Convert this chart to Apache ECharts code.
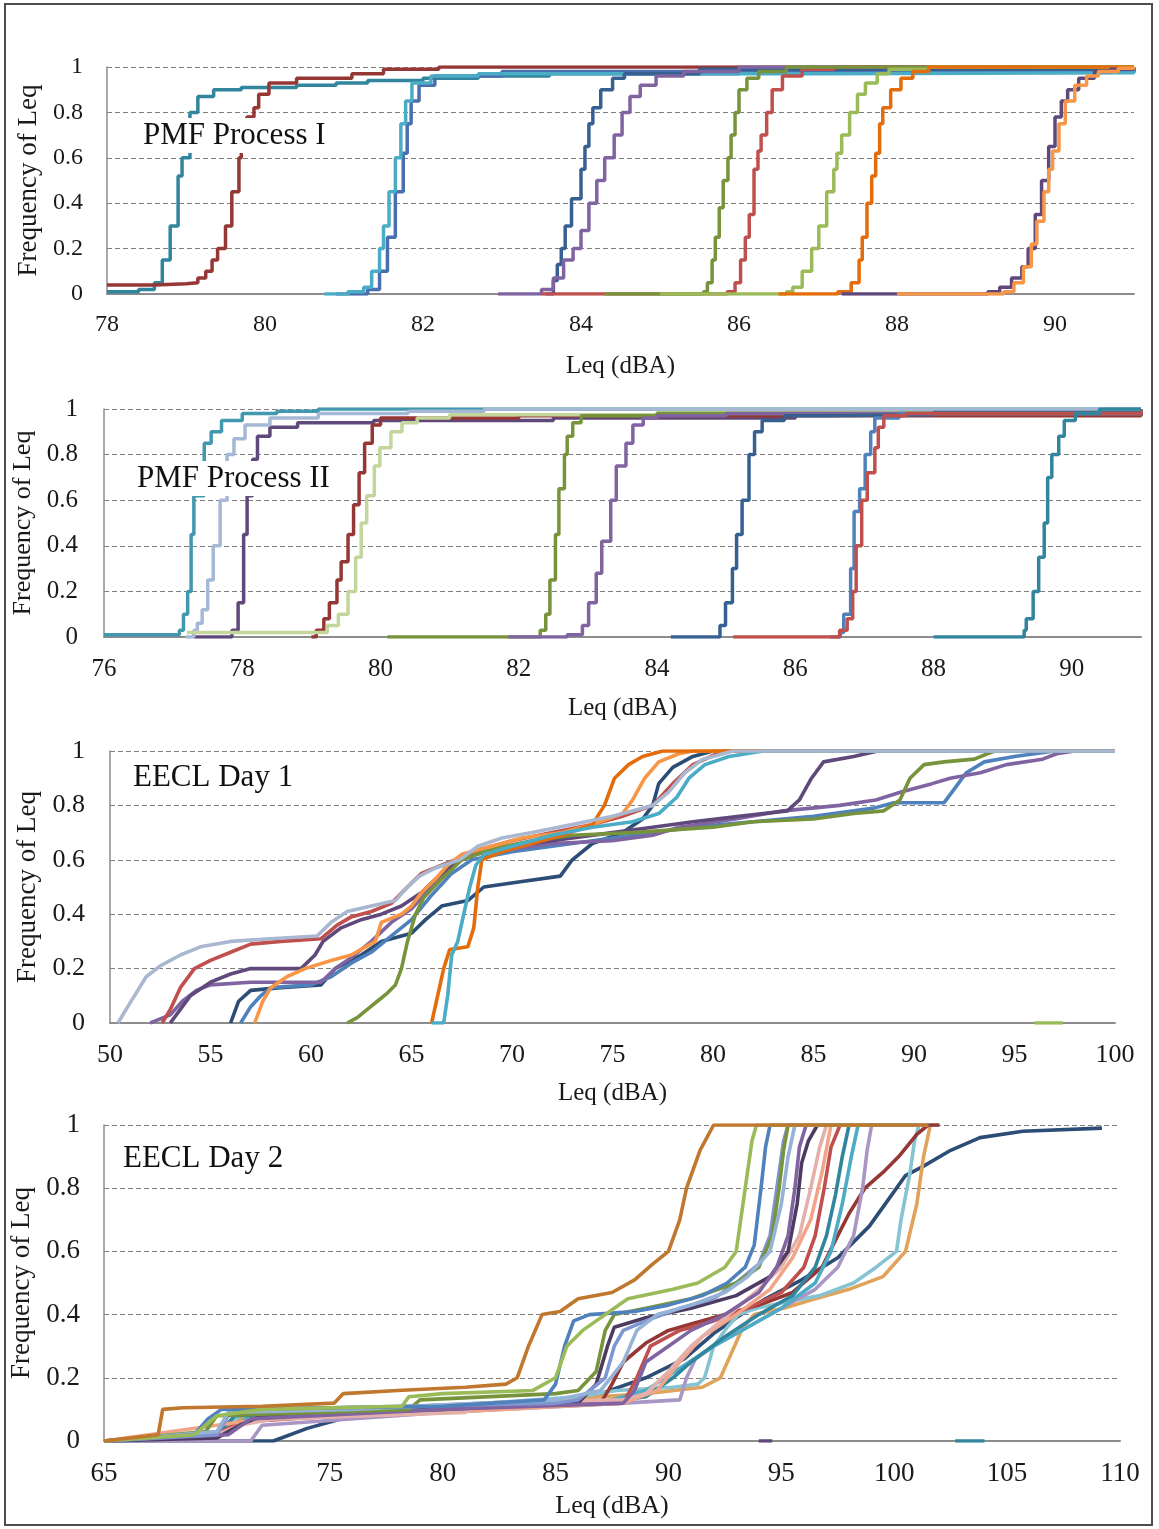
<!DOCTYPE html>
<html>
<head>
    <meta charset="UTF-8">
    <title>Frequency of Leq</title>
    <script type="text/javascript" src="https://cdn.jsdelivr.net/npm/echarts@6.0.0/dist/echarts.min.js"></script>
</head>
<style>
    body { margin: 0; background: #fff; }
    .main { width: 1159px; height: 1529px; }
</style>
<body>
<div id="charts" class="main"></div>
<script type="text/javascript">
    // ---- PMF Process I (x: 78-91) ----
    var p1Teal = [[78,0.01],[78.4,0.02],[78.6,0.05],[78.7,0.15],[78.8,0.3],[78.9,0.52],[78.95,0.6],[79.05,0.8],[79.15,0.87],[79.35,0.9],[79.7,0.91],[80.4,0.92],[80.9,0.93],[81.3,0.94],[82,0.95],[82.7,0.96],[83.6,0.97],[86,0.98],[91,0.99]];
    var p1DarkRed = [[78,0.04],[78.6,0.045],[79,0.05],[79.15,0.07],[79.25,0.1],[79.33,0.15],[79.4,0.2],[79.5,0.3],[79.58,0.45],[79.67,0.6],[79.7,0.63],[79.77,0.78],[79.86,0.82],[79.92,0.88],[80.05,0.93],[80.4,0.95],[81.1,0.97],[81.5,0.99],[82.2,1],[91,1]];
    var p1Blue = [[80.9,0],[81.3,0.02],[81.45,0.1],[81.55,0.25],[81.65,0.45],[81.75,0.62],[81.8,0.75],[81.85,0.85],[81.95,0.92],[82.15,0.96],[83,0.98],[91,0.99]];
    var p1Cyan = [[80.75,0],[81.05,0.01],[81.25,0.03],[81.35,0.1],[81.45,0.2],[81.5,0.3],[81.57,0.45],[81.65,0.6],[81.72,0.75],[81.78,0.85],[81.86,0.93],[82.1,0.96],[82.7,0.97],[87,0.975],[91,0.985]];
    var p1Navy = [[83.55,0],[83.65,0.06],[83.7,0.13],[83.75,0.2],[83.8,0.3],[83.88,0.42],[84,0.55],[84.05,0.65],[84.1,0.75],[84.15,0.82],[84.25,0.9],[84.4,0.95],[84.55,0.97],[85.5,0.99],[91,1]];
    var p1Purple = [[82.95,0],[83.5,0.02],[83.65,0.07],[83.78,0.15],[83.9,0.2],[84,0.28],[84.1,0.4],[84.2,0.5],[84.3,0.6],[84.42,0.7],[84.52,0.8],[84.62,0.87],[84.75,0.92],[84.95,0.96],[85.3,0.98],[86,1],[91,1]];
    var p1Red = [[83.5,0],[85.85,0.01],[85.95,0.05],[86.02,0.15],[86.08,0.25],[86.13,0.35],[86.19,0.55],[86.24,0.63],[86.28,0.7],[86.35,0.8],[86.42,0.9],[86.55,0.96],[86.8,0.99],[87.2,1],[91,1]];
    var p1Olive = [[84.3,0],[85.55,0.01],[85.6,0.05],[85.66,0.15],[85.7,0.25],[85.75,0.38],[85.8,0.5],[85.86,0.6],[85.9,0.7],[85.95,0.8],[86,0.9],[86.1,0.95],[86.25,0.98],[86.6,1],[91,1]];
    var p1LtGreen = [[85,0],[86.6,0.01],[86.68,0.03],[86.8,0.1],[86.92,0.2],[87.01,0.3],[87.11,0.45],[87.2,0.55],[87.24,0.62],[87.3,0.7],[87.4,0.8],[87.5,0.88],[87.6,0.93],[87.75,0.97],[87.9,0.99],[88.4,1],[91,1]];
    var p1Orange = [[86.5,0],[87.25,0.01],[87.42,0.05],[87.52,0.15],[87.56,0.25],[87.62,0.4],[87.68,0.52],[87.73,0.62],[87.78,0.75],[87.82,0.82],[87.92,0.9],[88.05,0.95],[88.2,0.98],[88.4,1],[91,1]];
    var p1DkPurple = [[87.3,0],[89.15,0.01],[89.3,0.03],[89.45,0.07],[89.58,0.12],[89.66,0.2],[89.75,0.35],[89.83,0.5],[89.92,0.65],[90,0.78],[90.08,0.85],[90.16,0.9],[90.3,0.95],[90.5,0.98],[90.7,0.99],[91,1]];
    var p1LtOrange = [[88,0],[89.35,0.01],[89.48,0.05],[89.6,0.12],[89.7,0.22],[89.77,0.32],[89.86,0.45],[89.92,0.55],[89.97,0.63],[90.05,0.75],[90.13,0.85],[90.25,0.92],[90.4,0.96],[90.55,0.98],[90.8,0.995],[91,1]];

    // ---- PMF Process II (x: 76-91) ----
    var p2Teal = [[76,0.01],[77,0.01],[77.09,0.03],[77.15,0.1],[77.21,0.2],[77.26,0.45],[77.3,0.62],[77.45,0.85],[77.55,0.9],[77.7,0.95],[78,0.98],[78.5,0.99],[79.1,1],[91,1]];
    var p2Steel = [[77.18,0],[77.3,0.03],[77.35,0.06],[77.42,0.12],[77.5,0.25],[77.58,0.4],[77.68,0.6],[77.78,0.8],[77.88,0.87],[78.04,0.93],[78.4,0.96],[79.1,0.98],[80.4,0.99],[81.5,1],[91,1]];
    var p2DkPurple = [[77.3,0],[77.8,0],[77.85,0.03],[77.94,0.15],[78.02,0.45],[78.07,0.62],[78.15,0.78],[78.22,0.88],[78.4,0.92],[78.8,0.94],[79.9,0.95],[82.5,0.96],[86,0.975],[91,0.985]];
    var p2DkRed = [[79,0],[79.07,0.03],[79.18,0.08],[79.26,0.15],[79.37,0.25],[79.43,0.33],[79.53,0.45],[79.61,0.58],[79.69,0.72],[79.77,0.85],[79.88,0.93],[80,0.96],[82,0.97],[91,0.99]];
    var p2PaleGreen = [[77.2,0.02],[79.1,0.02],[79.23,0.05],[79.39,0.1],[79.53,0.2],[79.64,0.35],[79.72,0.5],[79.8,0.62],[79.91,0.75],[79.99,0.83],[80.15,0.9],[80.31,0.94],[80.53,0.96],[81,0.975],[84,0.985],[91,0.99]];
    var p2Olive = [[80.1,0],[82.26,0],[82.31,0.03],[82.39,0.1],[82.45,0.25],[82.53,0.45],[82.58,0.65],[82.66,0.8],[82.7,0.88],[82.78,0.94],[82.9,0.97],[84,0.98],[91,0.99]];
    var p2Purple = [[81.85,0],[82.7,0.01],[82.92,0.05],[83.01,0.15],[83.12,0.28],[83.2,0.42],[83.33,0.6],[83.41,0.75],[83.55,0.85],[83.65,0.93],[83.8,0.96],[84,0.97],[85,0.98],[91,0.99]];
    var p2Navy = [[84.2,0],[84.83,0],[84.91,0.05],[84.99,0.15],[85.09,0.3],[85.15,0.45],[85.23,0.6],[85.33,0.8],[85.41,0.9],[85.52,0.95],[85.84,0.97],[86.4,0.975],[88,0.985],[91,0.99]];
    var p2Red = [[85.1,0],[86.59,0],[86.64,0.03],[86.75,0.08],[86.83,0.2],[86.88,0.4],[86.96,0.6],[87.04,0.72],[87.15,0.83],[87.2,0.92],[87.28,0.97],[87.6,0.98],[91,1]];
    var p2Blue = [[86.5,0],[86.65,0.02],[86.7,0.1],[86.8,0.3],[86.85,0.55],[86.93,0.65],[87.01,0.8],[87.09,0.9],[87.15,0.96],[87.5,0.98],[91,1]];
    var p2Teal2 = [[88,0],[89.25,0],[89.31,0.03],[89.34,0.08],[89.44,0.2],[89.52,0.35],[89.6,0.5],[89.65,0.7],[89.71,0.8],[89.81,0.88],[89.89,0.95],[90.05,0.98],[90.4,1],[91,1]];

    // ---- EECL Day 1 (x: 50-100) ----
    var p3Gray = [[50.4,0],[50.8,0.05],[51.3,0.11],[51.8,0.17],[52.5,0.21],[53.5,0.25],[54.5,0.28],[56,0.3],[58,0.31],[60.3,0.32],[61,0.37],[61.8,0.41],[63,0.43],[64.2,0.45],[64.8,0.5],[65.4,0.54],[66.2,0.57],[67.4,0.6],[68.3,0.65],[69.5,0.68],[71,0.7],[73,0.73],[75,0.76],[77,0.8],[77.8,0.85],[78.6,0.92],[79.5,0.97],[81,1],[100,1]];
    var p3Red = [[52.6,0],[53,0.05],[53.5,0.13],[54.2,0.2],[55,0.23],[56,0.26],[57,0.29],[58.5,0.3],[60.5,0.31],[61.3,0.36],[62,0.39],[63,0.41],[64,0.44],[64.8,0.5],[65.5,0.55],[66.5,0.58],[67.5,0.61],[68.5,0.64],[70,0.67],[72,0.7],[74,0.73],[75.5,0.76],[77,0.8],[78,0.88],[79,0.95],[80.5,1],[100,1]];
    var p3Purple = [[52,0],[53,0.03],[53.6,0.08],[54.3,0.12],[55,0.14],[57,0.15],[60.5,0.15],[61.2,0.2],[62,0.24],[63,0.3],[64,0.37],[65,0.42],[66,0.5],[67,0.58],[68,0.62],[70,0.64],[72,0.66],[75,0.67],[77,0.69],[78.3,0.72],[81.1,0.75],[83.5,0.78],[86.3,0.8],[88.1,0.82],[89.4,0.85],[90.9,0.88],[91.8,0.9],[93.3,0.92],[94.6,0.95],[96.4,0.97],[97.1,0.99],[98,1],[100,1]];
    var p3DkPurple = [[53,0],[53.5,0.05],[54,0.1],[55,0.15],[56,0.18],[57,0.2],[59.5,0.2],[60.2,0.25],[60.6,0.3],[61.5,0.35],[62.5,0.38],[63.5,0.4],[64.5,0.43],[65.5,0.48],[66.5,0.55],[67.5,0.6],[69,0.64],[71,0.66],[73,0.68],[75,0.7],[77,0.72],[79,0.74],[81.3,0.76],[83.7,0.78],[84.3,0.82],[84.9,0.9],[85.5,0.96],[87,0.98],[88.2,1],[100,1]];
    var p3Navy = [[56,0],[56.4,0.08],[57,0.12],[58.5,0.13],[60.5,0.14],[61.2,0.2],[62.5,0.25],[63.5,0.3],[65,0.33],[65.7,0.38],[66.5,0.43],[67.8,0.45],[68.6,0.5],[70.5,0.52],[72.4,0.54],[73,0.6],[74,0.66],[75.5,0.7],[76.5,0.75],[77,0.8],[77.3,0.88],[78,0.94],[79,0.98],[80,1],[100,1]];
    var p3Blue = [[56.5,0],[57,0.06],[57.5,0.1],[58,0.13],[60,0.14],[61,0.17],[62,0.22],[63,0.26],[64,0.32],[65,0.38],[66,0.47],[67,0.55],[68,0.6],[70,0.63],[73,0.66],[76,0.69],[79,0.72],[82,0.74],[85,0.76],[88,0.79],[89,0.81],[91.5,0.81],[92,0.86],[92.6,0.92],[93.5,0.96],[95,0.98],[97,1],[100,1]];
    var p3Orange = [[57.2,0],[57.6,0.08],[58,0.13],[58.8,0.17],[59.7,0.2],[61,0.23],[62,0.25],[63.2,0.3],[63.5,0.37],[64.5,0.4],[65,0.43],[65.5,0.48],[66.2,0.53],[66.8,0.58],[67.5,0.62],[69,0.65],[70.5,0.68],[72.5,0.7],[74,0.73],[75.5,0.77],[76,0.82],[76.6,0.9],[77.3,0.96],[78.3,0.99],[79,1],[100,1]];
    var p3Olive = [[61.8,0],[62.3,0.02],[62.8,0.05],[63.3,0.08],[63.8,0.11],[64.2,0.14],[64.5,0.2],[64.8,0.3],[65.2,0.4],[65.6,0.46],[66.5,0.53],[67.5,0.6],[69,0.64],[71,0.67],[73,0.69],[76,0.7],[78,0.71],[80,0.72],[82,0.74],[85,0.75],[87,0.77],[88.5,0.78],[89.3,0.82],[89.8,0.9],[90.5,0.95],[91.5,0.96],[93,0.97],[94,1],[100,1]];
    var p3DkOrange = [[66,0],[66.3,0.1],[66.6,0.2],[66.9,0.27],[67.8,0.28],[68.1,0.35],[68.3,0.5],[68.5,0.6],[69.5,0.63],[71,0.66],[72.5,0.69],[74,0.73],[74.6,0.8],[75.1,0.9],[75.8,0.95],[76.5,0.98],[77.5,1],[100,1]];
    var p3Aqua = [[66,0],[66.6,0],[66.8,0.1],[67,0.25],[67.3,0.3],[67.6,0.4],[67.9,0.5],[68.2,0.58],[68.6,0.62],[70,0.65],[72,0.69],[74,0.72],[76,0.74],[77.3,0.77],[78.2,0.83],[78.8,0.9],[79.6,0.95],[80.8,0.98],[82.5,1],[100,1]];
    var p3GreenMark = [[96,0],[97.4,0]];

    // ---- EECL Day 2 (x: 65-110) ----
    var p4Orange = [[65,0],[67.4,0.02],[67.6,0.1],[68.5,0.105],[72,0.11],[75.2,0.12],[75.6,0.15],[78,0.16],[81,0.17],[82.8,0.18],[83.3,0.2],[83.8,0.3],[84.4,0.4],[85.2,0.41],[86,0.45],[87.5,0.47],[88.5,0.51],[89.3,0.56],[90,0.6],[90.5,0.7],[90.8,0.8],[91.4,0.92],[92,1],[101.5,1]];
    var p4Green = [[65,0],[69,0.02],[70,0.08],[72,0.1],[78.2,0.11],[78.5,0.14],[80,0.15],[84,0.16],[85,0.2],[85.5,0.3],[86.2,0.35],[88.2,0.45],[90.2,0.48],[91.3,0.5],[92.5,0.55],[93,0.6],[93.4,0.8],[93.7,0.95],[93.9,1],[101,1]];
    var p4Blue = [[65,0],[69,0.02],[69.6,0.07],[70.2,0.1],[80,0.11],[84.5,0.13],[85,0.18],[85.4,0.3],[85.8,0.38],[86.5,0.4],[88.5,0.41],[90,0.43],[91.5,0.46],[92.6,0.5],[93.4,0.55],[93.8,0.62],[94.1,0.8],[94.3,0.93],[94.5,1],[101,1]];
    var p4PaleBlue = [[65,0],[70,0.03],[70.5,0.09],[76,0.1],[85,0.13],[87,0.16],[88,0.25],[88.6,0.35],[89.5,0.4],[91,0.43],[92.5,0.47],[93.5,0.52],[94.5,0.6],[95,0.75],[95.3,0.9],[95.6,1],[101,1]];
    var p4Olive = [[65,0],[69.5,0.03],[70,0.08],[78.5,0.1],[79,0.13],[85,0.15],[86,0.16],[86.8,0.22],[87.2,0.35],[87.6,0.4],[89,0.42],[91,0.45],[93,0.5],[94,0.55],[94.6,0.65],[94.9,0.8],[95.1,0.92],[95.3,1],[101,1]];
    var p4Periwinkle = [[65,0],[70,0.02],[70.5,0.08],[72,0.1],[85,0.12],[86,0.13],[87.2,0.2],[87.6,0.3],[88,0.35],[89,0.38],[90.5,0.42],[92,0.45],[93,0.5],[94,0.56],[94.5,0.65],[94.8,0.8],[95.1,0.95],[95.3,1],[101,1]];
    var p4Purple = [[65,0],[70.5,0.02],[71.5,0.07],[80,0.1],[88,0.12],[88.5,0.16],[89,0.25],[90,0.3],[91,0.35],[92.5,0.4],[94,0.47],[94.8,0.55],[95.3,0.65],[95.6,0.8],[95.8,0.93],[96.1,1],[101,1]];
    var p4DkPurple = [[65,0],[70,0.01],[71,0.05],[72,0.08],[80,0.1],[86,0.12],[86.8,0.18],[87.3,0.3],[87.6,0.36],[89,0.39],[91,0.42],[93,0.46],[94.5,0.52],[95.3,0.6],[95.7,0.75],[95.9,0.88],[96.2,0.95],[96.6,1],[101,1]];
    var p4Salmon = [[65,0],[70,0.02],[71,0.05],[72.5,0.07],[81,0.09],[81.7,0.12],[88,0.13],[89,0.15],[90,0.22],[91,0.3],[92,0.36],[93,0.42],[94,0.48],[95,0.55],[95.8,0.65],[96.3,0.8],[96.7,0.93],[97,1],[101.5,1]];
    var p4Coral = [[65,0],[71,0.06],[72.5,0.07],[80,0.09],[88,0.12],[89.5,0.16],[90.5,0.25],[91.5,0.33],[93,0.4],[94.5,0.48],[95.5,0.58],[96.3,0.7],[96.8,0.85],[97.2,1],[101.5,1]];
    var p4Red = [[65,0],[70,0.02],[71,0.06],[80,0.1],[88,0.12],[88.6,0.2],[89.2,0.3],[90.5,0.35],[92,0.38],[93.5,0.42],[95,0.47],[96,0.55],[96.5,0.65],[96.9,0.8],[97.2,0.93],[97.6,1],[101.5,1]];
    var p4Teal = [[65,0],[70,0.02],[70.8,0.08],[80,0.1],[88,0.13],[89,0.14],[90.2,0.2],[91,0.25],[92.5,0.33],[94,0.4],[95.5,0.46],[96.5,0.55],[97,0.65],[97.4,0.78],[97.7,0.9],[98,1],[101.5,1]];
    var p4Aqua = [[65,0],[70.5,0.03],[71.5,0.08],[80,0.1],[87,0.12],[89,0.16],[90.5,0.23],[92,0.3],[93.5,0.36],[95,0.42],[96.5,0.5],[97.2,0.6],[97.7,0.75],[98.1,0.9],[98.4,1],[101.5,1]];
    var p4Lavender = [[65,0],[71.5,0],[72,0.05],[80,0.09],[88,0.12],[90.5,0.13],[90.8,0.2],[91.2,0.26],[92,0.3],[93.5,0.36],[95,0.42],[96.5,0.48],[97.5,0.55],[98.2,0.65],[98.6,0.8],[98.8,0.92],[99,1],[101.5,1]];
    var p4DkRed = [[65,0],[70,0.01],[71,0.05],[72,0.08],[80,0.1],[87,0.12],[87.5,0.18],[88,0.25],[89,0.31],[90,0.35],[91,0.37],[92.5,0.4],[94,0.43],[95.5,0.47],[96.8,0.55],[97.5,0.65],[98,0.72],[98.7,0.8],[99.5,0.85],[100.2,0.9],[101,0.97],[101.5,1],[102,1]];
    var p4LtTeal = [[65,0],[70,0.02],[71,0.08],[75,0.1],[82,0.12],[86,0.14],[87.7,0.16],[90.2,0.17],[91.3,0.18],[91.6,0.2],[92,0.3],[92.6,0.36],[93.1,0.4],[93.9,0.42],[95.2,0.44],[96.7,0.46],[98.2,0.5],[99.2,0.55],[100.1,0.6],[100.3,0.7],[100.7,0.85],[100.9,0.95],[101.1,1],[102,1]];
    var p4Tan = [[65,0],[70,0.03],[71,0.07],[76,0.1],[85,0.13],[89,0.15],[91.5,0.17],[92.3,0.2],[92.8,0.28],[93.3,0.36],[93.8,0.4],[95.1,0.42],[96.5,0.45],[98,0.48],[99.5,0.52],[100.5,0.6],[101,0.75],[101.3,0.9],[101.6,1],[102,1]];
    var p4Navy = [[65,0],[72.5,0],[74,0.04],[76,0.08],[80,0.1],[85,0.12],[87,0.15],[89,0.2],[90.7,0.26],[92,0.34],[93,0.39],[94.3,0.45],[95.9,0.51],[97.5,0.58],[98.9,0.68],[99.7,0.76],[100.5,0.84],[101.3,0.87],[102.5,0.92],[103.8,0.96],[105.7,0.98],[109.2,0.99]];
    var p4PurpleMark = [[94,0],[94.6,0]];
    var p4TealMark = [[102.7,0],[104,0]];

    var xTitle = 'Leq (dBA)';
    var yTitle = 'Frequency of Leq';
    var serif = '"Liberation Serif", "Times New Roman", serif';

    var panels = [
        {left: 107, top: 67, width: 1027, height: 227, min: 78, max: 91, interval: 2, tick: 24, xName: 25, yName: 27, xMargin: 19, yMargin: 24, xGap: 60, yGap: 62, text: 'PMF Process I', tx: 139, ty: 118, tSize: 31},
        {left: 104, top: 409, width: 1037, height: 228, min: 76, max: 91, interval: 2, tick: 25, xName: 25, yName: 26, xMargin: 20, yMargin: 26, xGap: 59, yGap: 66, text: 'PMF Process II', tx: 133, ty: 461, tSize: 31},
        {left: 110, top: 751, width: 1005, height: 272, min: 50, max: 100, interval: 5, tick: 26, xName: 25, yName: 27, xMargin: 19, yMargin: 25, xGap: 58, yGap: 64, text: 'EECL Day 1', tx: 129, ty: 760, tSize: 31},
        {left: 104, top: 1125, width: 1016, height: 316, min: 65, max: 110, interval: 5, tick: 27, xName: 26, yName: 27, xMargin: 19, yMargin: 24, xGap: 52, yGap: 66, text: 'EECL Day 2', tx: 119, ty: 1141, tSize: 31}
    ];

    // panel index, data, colour
    var curves = [
        [0, p1Teal, '#31859C'], [0, p1DarkRed, '#953735'], [0, p1Blue, '#4A6FAE'], [0, p1Cyan, '#4BACC6'],
        [0, p1Navy, '#376092'], [0, p1Purple, '#8064A2'], [0, p1Red, '#C0504D'], [0, p1Olive, '#77933C'],
        [0, p1LtGreen, '#9BBB59'], [0, p1Orange, '#E46C0A'], [0, p1DkPurple, '#5F497A'], [0, p1LtOrange, '#F79646'],
        [1, p2DkPurple, '#5F497A'], [1, p2Teal, '#4198AF'], [1, p2Steel, '#A5B8D5'], [1, p2DkRed, '#953735'],
        [1, p2PaleGreen, '#C3D69B'], [1, p2Olive, '#77933C'], [1, p2Purple, '#8064A2'], [1, p2Navy, '#376092'],
        [1, p2Blue, '#4F81BD'], [1, p2Red, '#C0504D'], [1, p2Teal2, '#31859C'],
        [2, p3Navy, '#2C4D75'], [2, p3Blue, '#4F81BD'], [2, p3Purple, '#8064A2'], [2, p3DkPurple, '#5F497A'],
        [2, p3Red, '#C0504D'], [2, p3Olive, '#77933C'], [2, p3Orange, '#F79646'], [2, p3DkOrange, '#E46C0A'],
        [2, p3Aqua, '#4BACC6'], [2, p3Gray, '#A9B7D0'], [2, p3GreenMark, '#9BBB59'],
        [3, p4Navy, '#2C4D75'], [3, p4Tan, '#E0A35C'], [3, p4LtTeal, '#86C4D4'], [3, p4DkRed, '#953735'],
        [3, p4Lavender, '#A996C4'], [3, p4Aqua, '#4BACC6'], [3, p4Teal, '#31859C'], [3, p4Red, '#C0504D'],
        [3, p4Coral, '#F2A488'], [3, p4Salmon, '#E6B0AA'], [3, p4DkPurple, '#4D3B62'], [3, p4Purple, '#8064A2'],
        [3, p4Periwinkle, '#7F95D1'], [3, p4Olive, '#77933C'], [3, p4PaleBlue, '#95B3D7'], [3, p4Blue, '#4F81BD'],
        [3, p4Green, '#9BBB59'], [3, p4Orange, '#C0772E'], [3, p4PurpleMark, '#5F497A'], [3, p4TealMark, '#31859C']
    ];

    var grids = [], xAxes = [], yAxes = [], graphics = [], series = [];
    panels.forEach(function (p, i) {
        grids.push({left: p.left, top: p.top, width: p.width, height: p.height, containLabel: false});
        xAxes.push({
            type: 'value', gridIndex: i, min: p.min, max: p.max, interval: p.interval,
            name: xTitle, nameLocation: 'middle', nameGap: p.xGap,
            nameTextStyle: {fontFamily: serif, fontSize: p.xName, color: '#1a1a1a'},
            axisLine: {show: true, onZero: false, lineStyle: {color: '#8c8c8c', width: 2}},
            axisTick: {show: false},
            splitLine: {show: false},
            axisLabel: {fontFamily: serif, fontSize: p.tick, color: '#1a1a1a', margin: p.xMargin, showMaxLabel: p.max % p.interval === 0}
        });
        yAxes.push({
            type: 'value', gridIndex: i, min: 0, max: 1, interval: 0.2,
            name: yTitle, nameLocation: 'middle', nameGap: p.yGap, nameRotate: 90,
            nameTextStyle: {fontFamily: serif, fontSize: p.yName, color: '#1a1a1a'},
            axisLine: {show: true, lineStyle: {color: '#8c8c8c', width: 1.5}},
            axisTick: {show: false},
            splitLine: {show: true, lineStyle: {color: '#7f7f7f', type: [5, 3], width: 1.2}},
            axisLabel: {fontFamily: serif, fontSize: p.tick, color: '#1a1a1a', margin: p.yMargin}
        });
        graphics.push({
            type: 'text', left: p.tx, top: p.ty, z: 100,
            style: {text: p.text, font: 'normal ' + p.tSize + 'px ' + serif, fill: '#111', backgroundColor: '#fff', padding: [2, 4]}
        });
    });

    // outer frame
    graphics.push({type: 'rect', z: 100, shape: {x: 5, y: 4, width: 1147, height: 1521}, style: {fill: 'none', stroke: '#4d4d4d', lineWidth: 2}});

    curves.forEach(function (c) {
        var stepped = c[0] < 2;
        series.push({
            type: 'line', xAxisIndex: c[0], yAxisIndex: c[0], data: c[1],
            step: stepped ? 'end' : false,
            showSymbol: false, silent: true,
            lineStyle: {color: c[2], width: stepped ? 3.5 : 3.6},
            itemStyle: {color: c[2]}
        });
    });

    var myChart = echarts.init(document.getElementById('charts'));
    var option = {
        animation: false,
        backgroundColor: '#fff',
        grid: grids,
        xAxis: xAxes,
        yAxis: yAxes,
        graphic: graphics,
        series: series
    };
    option && myChart.setOption(option);
</script>
</body>
</html>
